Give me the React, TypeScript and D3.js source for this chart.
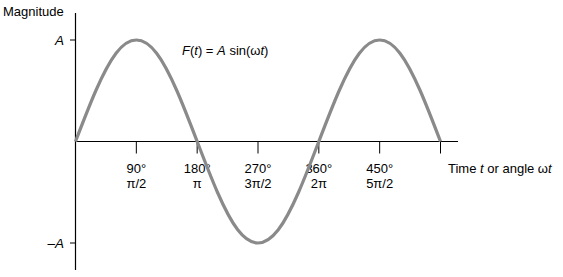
import React from "react";
import * as d3 from "d3";

const tickDegrees = [90, 180, 270, 360, 450, 540];
const degreeLabels = ["90°", "180°", "270°", "360°", "450°", ""];
const radianLabels = ["π/2", "π", "3π/2", "2π", "5π/2", ""];
// curve samples, every 30°
const curveDegrees = [0, 30, 60, 90, 120, 150, 180, 210, 240, 270, 300, 330, 360, 390, 420, 450, 480, 510, 540];
const curveValues = [0, 0.5, 0.87, 1, 0.87, 0.5, 0, -0.5, -0.87, -1, -0.87, -0.5, 0, 0.5, 0.87, 1, 0.87, 0.5, 0];
const yTicks = [1, -1];
const yTickLabels = ["A", "–A"];

const W = 563;
const H = 277;
const FONT = "'Liberation Sans', Arial, sans-serif";

export default function App() {
  const x = d3.scaleLinear().domain([0, 540]).range([75.5, 440.5]);
  const y = d3.scaleLinear().domain([-1, 1]).range([243, 40]);
  const line = d3
    .line<number>()
    .x((_, i) => x(curveDegrees[i]))
    .y((d) => y(d))
    .curve(d3.curveNatural);

  return (
    <svg
      width={W}
      height={H}
      style={{ position: "absolute", left: 0, top: 0, background: "#fff" }}
      fontFamily={FONT}
    >
      <rect width={W} height={H} fill="#fff" />
      {/* y axis */}
      <line x1={75.5} x2={75.5} y1={13} y2={270} stroke="#000" strokeWidth={1.2} />
      {/* x axis */}
      <line x1={75} x2={458} y1={y(0)} y2={y(0)} stroke="#000" strokeWidth={1.2} />
      {yTicks.map((v, i) => (
        <g key={i}>
          <line x1={70} x2={75.5} y1={y(v)} y2={y(v)} stroke="#000" strokeWidth={1} />
          <text
            x={64}
            y={y(v) + 4.5}
            textAnchor="end"
            fontSize={13.5}
            fontStyle="italic"
          >
            {yTickLabels[i]}
          </text>
        </g>
      ))}
      {tickDegrees.map((d, i) => (
        <g key={d}>
          <line x1={x(d)} x2={x(d)} y1={y(0)} y2={y(0) + 12} stroke="#000" strokeWidth={1} />
          <text x={x(d)} y={173} textAnchor="middle" fontSize={13}>
            {degreeLabels[i]}
          </text>
          <text x={x(d)} y={188} textAnchor="middle" fontSize={13}>
            {radianLabels[i]}
          </text>
        </g>
      ))}
      <path d={line(curveValues) || ""} fill="none" stroke="#8a8a8a" strokeWidth={3.2} />
      <text x={3} y={16} fontSize={13}>
        Magnitude
      </text>
      <text x={182} y={55} fontSize={13}>
        <tspan fontStyle="italic">F</tspan>(<tspan fontStyle="italic">t</tspan>) ={" "}
        <tspan fontStyle="italic">A</tspan> sin(ω<tspan fontStyle="italic">t</tspan>)
      </text>
      <text x={448} y={173} fontSize={13}>
        Time <tspan fontStyle="italic">t</tspan> or angle ω<tspan fontStyle="italic">t</tspan>
      </text>
    </svg>
  );
}
